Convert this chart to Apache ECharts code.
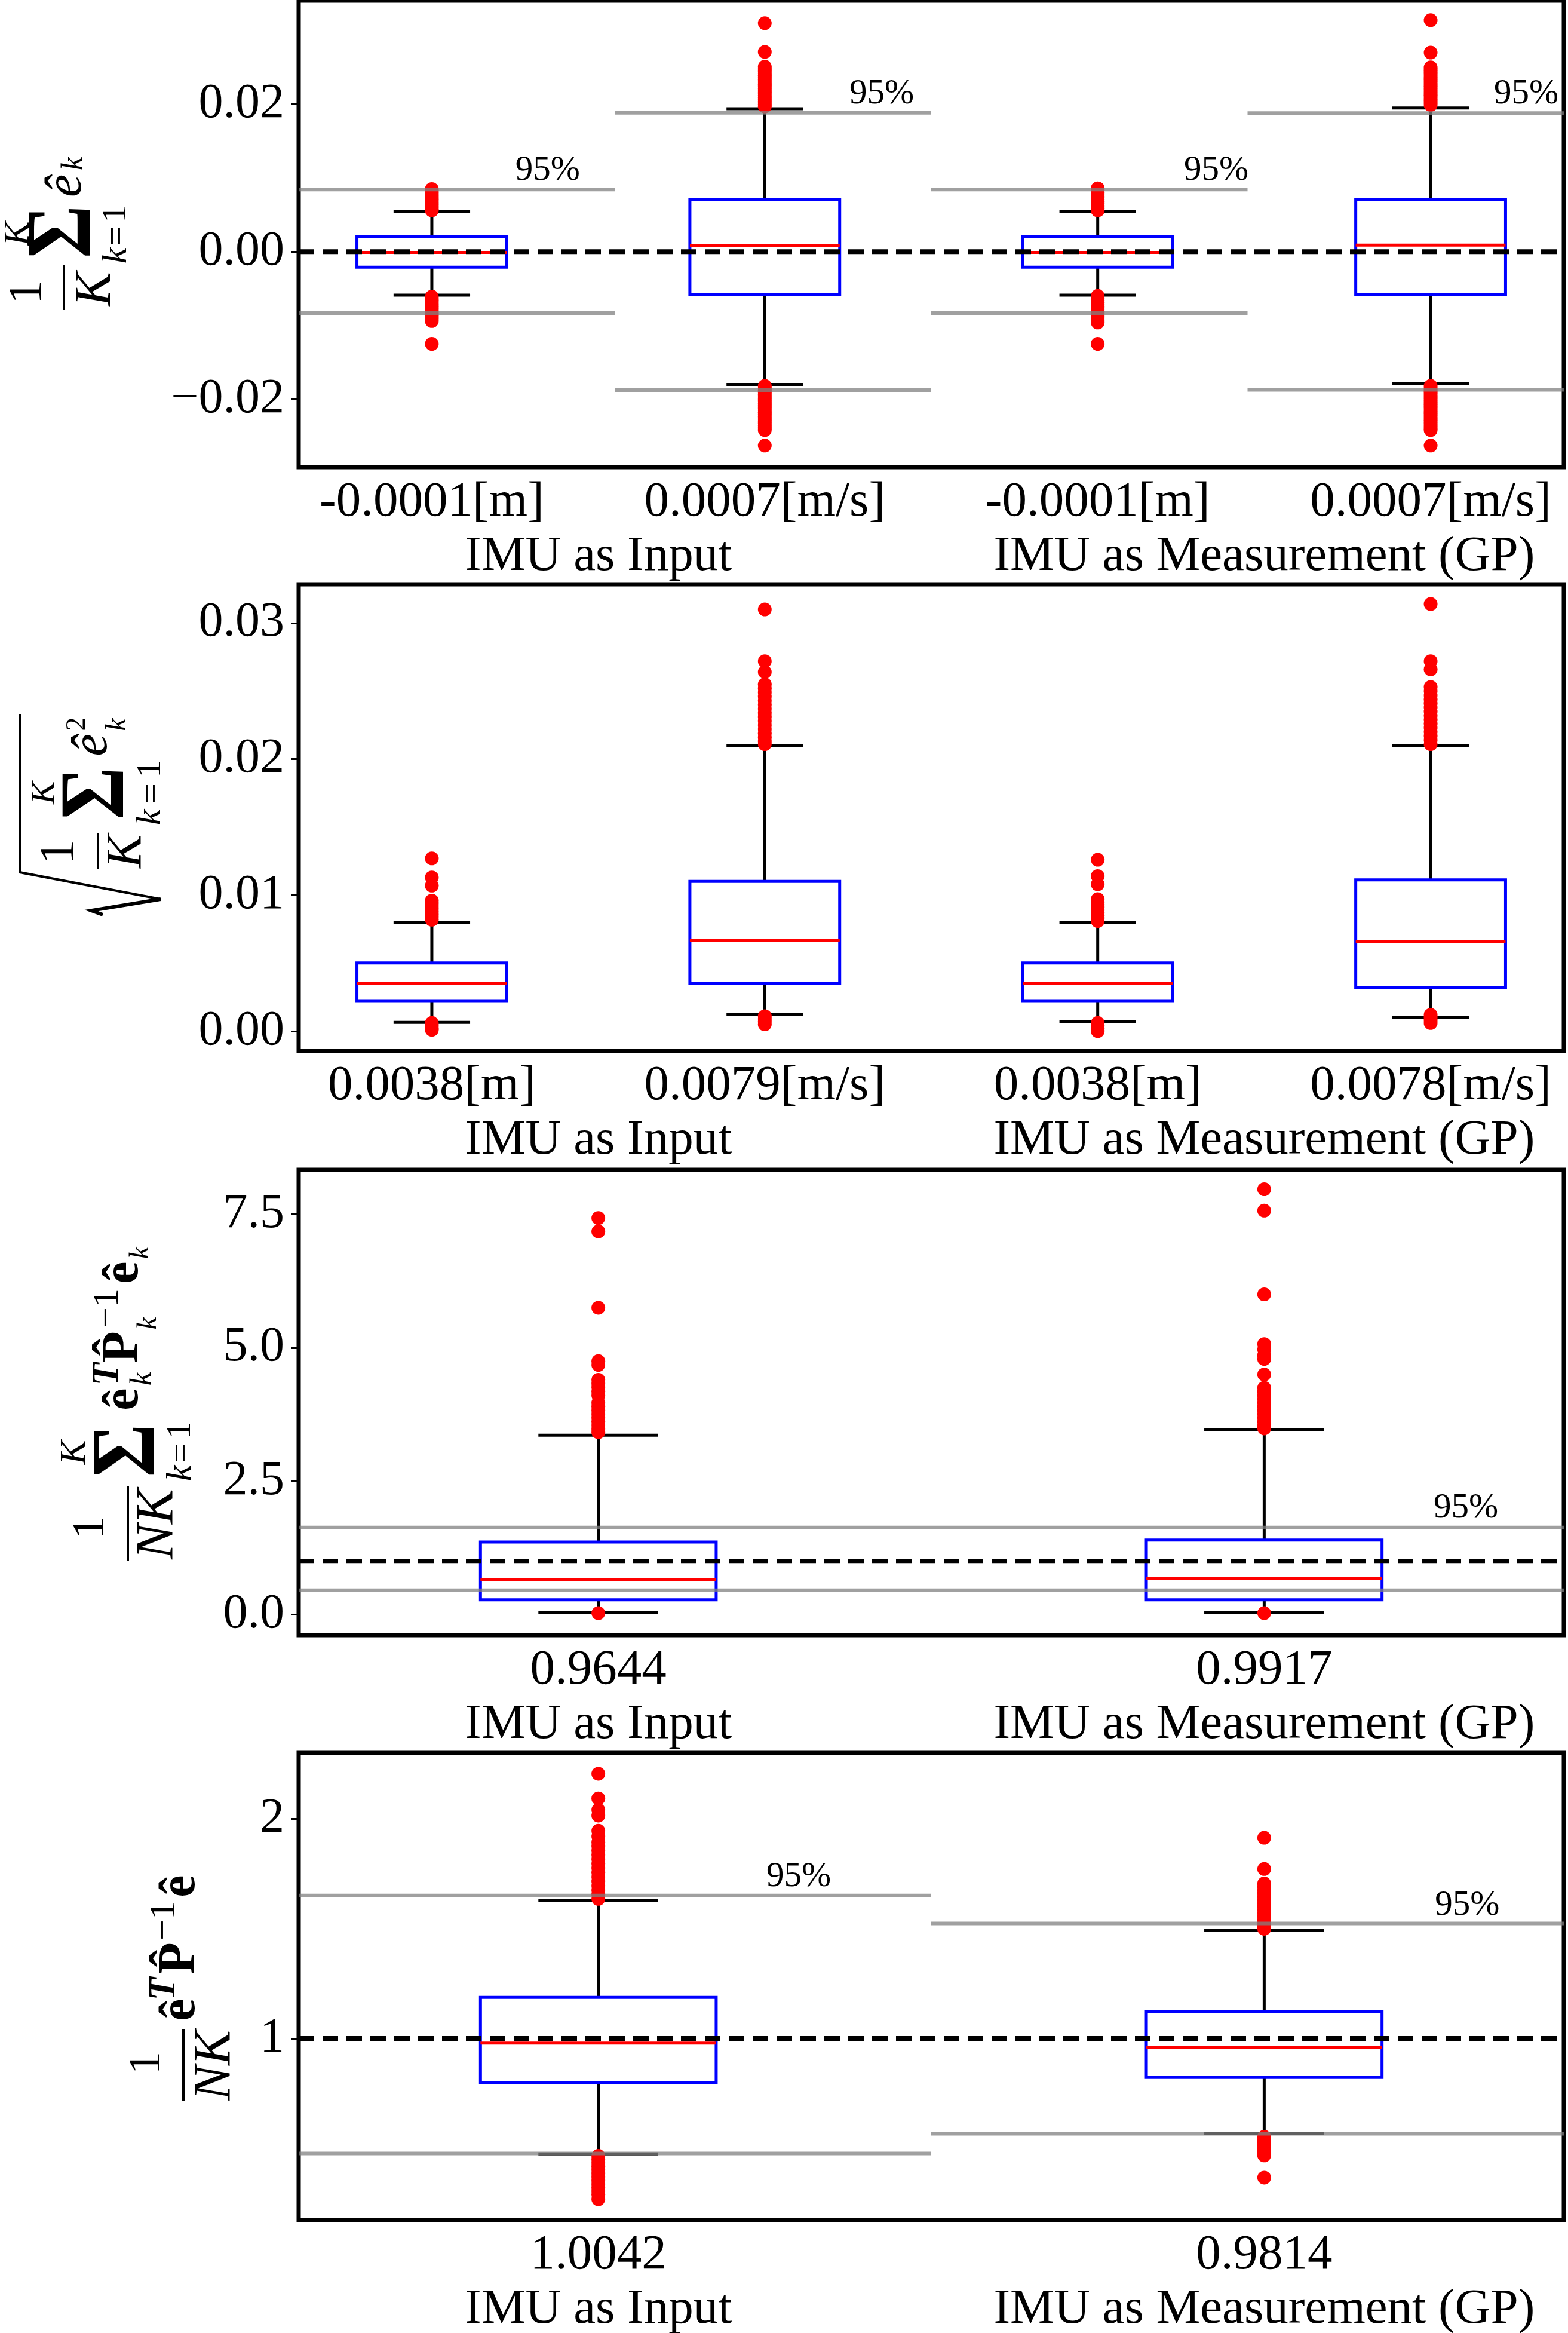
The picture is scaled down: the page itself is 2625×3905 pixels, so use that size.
<!DOCTYPE html>
<html lang="en">
<head>
<meta charset="utf-8">
<title>Estimation error boxplots</title>
<style>
  html, body { margin: 0; padding: 0; background: #fff; }
  #container { width: 2625px; height: 3905px; }
</style>
</head>
<body>
<div id="container"></div>
<script src="https://fastly.jsdelivr.net/npm/echarts@6.0.0/dist/echarts.min.js"></script>
<script>
var FONT = 'Liberation Serif';
var groupNames = ['IMU as Input', 'IMU as Measurement (GP)'];

// ---- panel 1: mean error (1/K) sum e_k ----
var p1Ticks = ['-0.0001[m]', '0.0007[m/s]', '-0.0001[m]', '0.0007[m/s]'];
// [position, lower whisker, q1, median, q3, upper whisker]
var p1Boxes = [
  [1, -0.0059, -0.0021, -0.0001, 0.0020, 0.0055],
  [2, -0.0180, -0.0058, 0.0008, 0.0071, 0.0194],
  [3, -0.0059, -0.0021, -0.0001, 0.0020, 0.0055],
  [4, -0.0179, -0.0058, 0.0009, 0.0071, 0.0195]
];
var p1Fliers = [
  [0.0085, 0.0082, 0.0079, 0.0076, 0.0073, 0.0070, 0.0067, 0.0064, 0.0061, 0.0058, 0.0056,
   -0.0061, -0.0064, -0.0067, -0.0070, -0.0073, -0.0076, -0.0079, -0.0082, -0.0085, -0.0088, -0.0091, -0.0094, -0.0125],
  [0.0310, 0.0271, 0.0251, 0.0248, 0.0245, 0.0242, 0.0239, 0.0236, 0.0233, 0.0230, 0.0227, 0.0224, 0.0221,
   0.0218, 0.0215, 0.0212, 0.0209, 0.0206, 0.0203, 0.0200, 0.0197,
   -0.0182, -0.0185, -0.0188, -0.0191, -0.0194, -0.0197, -0.0200, -0.0203, -0.0206, -0.0209, -0.0212,
   -0.0215, -0.0218, -0.0221, -0.0224, -0.0227, -0.0230, -0.0233, -0.0236, -0.0239, -0.0242, -0.0263],
  [0.0086, 0.0083, 0.0080, 0.0077, 0.0074, 0.0071, 0.0068, 0.0065, 0.0062, 0.0059, 0.0056,
   -0.0060, -0.0063, -0.0066, -0.0069, -0.0072, -0.0075, -0.0078, -0.0081, -0.0084, -0.0087, -0.0090, -0.0093, -0.0096, -0.0125],
  [0.0314, 0.0270, 0.0250, 0.0247, 0.0244, 0.0241, 0.0238, 0.0235, 0.0232, 0.0229, 0.0226, 0.0223, 0.0220,
   0.0217, 0.0214, 0.0211, 0.0208, 0.0205, 0.0202, 0.0199,
   -0.0182, -0.0185, -0.0188, -0.0191, -0.0194, -0.0197, -0.0200, -0.0203, -0.0206, -0.0209, -0.0212,
   -0.0215, -0.0218, -0.0221, -0.0224, -0.0227, -0.0230, -0.0233, -0.0236, -0.0239, -0.0242, -0.0263]
];
// 95% bounds: [x from, x to, y]
var p1Bounds = [
  [0.6, 1.55, 0.00843], [0.6, 1.55, -0.00832],
  [1.55, 2.5, 0.01884], [1.55, 2.5, -0.01878],
  [2.5, 3.45, 0.00843], [2.5, 3.45, -0.00832],
  [3.45, 4.4, 0.01881], [3.45, 4.4, -0.01873]
];
var p1Ref = [[0.6, 4.4, 0]];
var p1Pct = [[1.348, 0.0110], [2.351, 0.0214], [3.356, 0.0110], [4.287, 0.0214]];

// ---- panel 2: RMSE ----
var p2Ticks = ['0.0038[m]', '0.0079[m/s]', '0.0038[m]', '0.0078[m/s]'];
var p2Boxes = [
  [1, 0.00065, 0.00224, 0.00350, 0.00502, 0.00801],
  [2, 0.00123, 0.00350, 0.00670, 0.01101, 0.02098],
  [3, 0.00070, 0.00224, 0.00350, 0.00502, 0.00801],
  [4, 0.00101, 0.00320, 0.00659, 0.01112, 0.02098]
];
var p2Fliers = [
  [0.0127, 0.0113, 0.0107, 0.0096, 0.0094, 0.0092, 0.0090, 0.0088, 0.0086, 0.0084, 0.0082,
   0.0006, 0.0004, 0.0002, 0.0001],
  [0.0310, 0.0272, 0.0264, 0.0255, 0.0252, 0.0249, 0.0246, 0.0243, 0.0240, 0.0237, 0.0234, 0.0231,
   0.0228, 0.0225, 0.0222, 0.0219, 0.0216, 0.0213, 0.0211, 0.0011, 0.0009, 0.0007, 0.0005],
  [0.0126, 0.0114, 0.0108, 0.0097, 0.0095, 0.0093, 0.0091, 0.0089, 0.0087, 0.0085, 0.0083, 0.0081,
   0.0006, 0.0004, 0.0002, 0.0000],
  [0.0314, 0.0272, 0.0266, 0.0253, 0.0250, 0.0247, 0.0244, 0.0241, 0.0238, 0.0235, 0.0232, 0.0229,
   0.0226, 0.0223, 0.0220, 0.0217, 0.0214, 0.0211, 0.0012, 0.0010, 0.0008, 0.0006]
];

// ---- panel 3: mean NEES ----
var p3Ticks = ['0.9644', '0.9917'];
var p3Boxes = [
  [1, 0.043, 0.278, 0.657, 1.363, 3.362],
  [2, 0.043, 0.278, 0.685, 1.399, 3.469]
];
var p3Fliers = [
  [7.43, 7.18, 5.75, 4.75, 4.68, 4.40, 4.33, 4.26, 4.18, 4.11, 3.97, 3.90, 3.83, 3.76, 3.69,
   3.62, 3.55, 3.48, 3.42, 0.03],
  [7.97, 7.57, 6.00, 5.07, 4.97, 4.86, 4.79, 4.50, 4.25, 4.18, 4.11, 4.04, 3.97, 3.90, 3.83,
   3.76, 3.69, 3.62, 3.55, 3.49, 0.03]
];
var p3Bounds = [[0.55, 2.45, 1.634], [0.55, 2.45, 0.457]];
var p3Ref = [[0.55, 2.45, 1]];
var p3Pct = [[2.303, 2.0]];

// ---- panel 4: whole-trajectory NEES ----
var p4Ticks = ['1.0042', '0.9814'];
var p4Boxes = [
  [1, 0.475, 0.799, 0.979, 1.187, 1.629],
  [2, 0.567, 0.823, 0.960, 1.121, 1.492]
];
var p4Fliers = [
  [2.204, 2.092, 2.040, 2.014, 1.945, 1.919, 1.893, 1.875, 1.855, 1.835, 1.815, 1.795, 1.775,
   1.755, 1.735, 1.715, 1.695, 1.675, 1.655, 1.635,
   0.466, 0.450, 0.434, 0.418, 0.402, 0.386, 0.370, 0.354, 0.338, 0.322, 0.306, 0.290, 0.269],
  [1.913, 1.771, 1.705, 1.690, 1.675, 1.660, 1.645, 1.630, 1.615, 1.600, 1.585, 1.570, 1.555,
   1.540, 1.525, 1.510, 1.499, 0.553, 0.540, 0.527, 0.514, 0.501, 0.488, 0.475, 0.468, 0.367]
];
var p4Bounds = [[0.55, 1.5, 1.650], [0.55, 1.5, 0.477], [1.5, 2.45, 1.523], [1.5, 2.45, 0.567]];
var p4Ref = [[0.55, 2.45, 1]];
var p4Pct = [[1.301, 1.736], [2.305, 1.606]];

// y-axis titles, read bottom to top: [text, centre x, centre y, font size, style, squeeze]
// style: i italic, b bold
var yTitle1 = [
  ['1', 48, 489, 80, ''], ['K', 161, 484, 86, 'i'],
  ['\u03a3', 110, 388, 154, 'b', 0.88], ['K', 32, 391, 61, 'i'],
  ['k', 195, 428, 60, 'i'], ['=', 197, 395, 60, ''], ['1', 195, 358, 58, ''],
  ['\u00ea', 112, 311, 86, 'i'], ['k', 124, 274, 50, 'i']
];
var yTitle2 = [
  ['1', 100, 1426, 83, ''], ['K', 214, 1425, 84, 'i'],
  ['K', 76, 1327, 58, 'i'], ['\u03a3', 166, 1328, 155, 'b', 0.86],
  ['k', 252, 1368, 60, 'i'], ['=', 255, 1328, 60, ''], ['1', 253, 1287, 58, ''],
  ['\u00ea', 156, 1247, 85, 'i'], ['2', 130, 1212, 46, ''], ['k', 197, 1213, 48, 'i']
];
var yTitle3 = [
  ['1', 153, 2557, 76, ''], ['NK', 265, 2551, 88, 'i'],
  ['\u03a3', 218, 2428, 152, 'b', 0.9], ['K', 126, 2431, 61, 'i'],
  ['k', 303, 2466, 60, 'i'], ['=', 305, 2432, 60, ''], ['1', 303, 2394, 58, ''],
  ['\u00ea', 208, 2342, 84, 'b'], ['T', 181, 2300, 63, 'bi'], ['k', 239, 2308, 51, 'i'],
  ['P\u0302', 207, 2255, 87, 'b'], ['\u22121', 181, 2190, 62, ''], ['k', 249, 2215, 46, 'i'],
  ['\u00ea', 208, 2130, 84, 'b'], ['k', 236, 2097, 46, 'i']
];
var yTitle4 = [
  ['1', 247, 3453, 77, ''], ['NK', 361, 3457, 88, 'i'],
  ['\u00ea', 303, 3364, 84, 'b'], ['T', 276, 3329, 63, 'bi'],
  ['P\u0302', 302, 3278, 87, 'b'], ['\u22121', 276, 3215, 62, ''],
  ['\u00ea', 303, 3157, 84, 'b']
];
// fraction bars [x, y from, y to]
var fracBars = [[107, 444, 519], [164, 1395, 1455], [214, 2488, 2613], [307, 3396, 3517]];

var panels = [
  { top: 1, height: 781, x: [0.6, 4.4], y: [-0.02923, 0.03406], yTicks: [-0.02, 0, 0.02], dec: 2,
    ticks: p1Ticks, groupPos: [1.5, 3.5], boxes: p1Boxes, fliers: p1Fliers,
    bounds: p1Bounds, ref: p1Ref, pct: p1Pct, boxW: 0.45, capW: 0.23 },
  { top: 978, height: 781, x: [0.6, 4.4], y: [-0.00145, 0.03285], yTicks: [0, 0.01, 0.02, 0.03], dec: 2,
    ticks: p2Ticks, groupPos: [1.5, 3.5], boxes: p2Boxes, fliers: p2Fliers,
    bounds: [], ref: [], pct: [], boxW: 0.45, capW: 0.23 },
  { top: 1958, height: 779, x: [0.55, 2.45], y: [-0.384, 8.335], yTicks: [0, 2.5, 5, 7.5], dec: 1,
    ticks: p3Ticks, groupPos: [1, 2], boxes: p3Boxes, fliers: p3Fliers,
    bounds: p3Bounds, ref: p3Ref, pct: p3Pct, boxW: 0.354, capW: 0.18 },
  { top: 2934, height: 782, x: [0.55, 2.45], y: [0.174, 2.299], yTicks: [1, 2], dec: 0,
    ticks: p4Ticks, groupPos: [1, 2], boxes: p4Boxes, fliers: p4Fliers,
    bounds: p4Bounds, ref: p4Ref, pct: p4Pct, boxW: 0.354, capW: 0.18 }
];

function boxRenderer(boxW, capW) {
  return function (params, api) {
    var x = api.value(0);
    var lo = api.coord([x, api.value(1)]);
    var q1 = api.coord([x, api.value(2)]);
    var med = api.coord([x, api.value(3)]);
    var q3 = api.coord([x, api.value(4)]);
    var hi = api.coord([x, api.value(5)]);
    var bl = api.coord([x - boxW / 2, api.value(2)])[0];
    var br = api.coord([x + boxW / 2, api.value(2)])[0];
    var cl = api.coord([x - capW / 2, api.value(1)])[0];
    var cr = api.coord([x + capW / 2, api.value(1)])[0];
    function black() { return { stroke: '#000', lineWidth: 5 }; }
    return {
      type: 'group',
      children: [
        { type: 'line', shape: { x1: q1[0], y1: q1[1], x2: lo[0], y2: lo[1] }, style: black() },
        { type: 'line', shape: { x1: q3[0], y1: q3[1], x2: hi[0], y2: hi[1] }, style: black() },
        { type: 'line', shape: { x1: cl, y1: lo[1], x2: cr, y2: lo[1] }, style: black() },
        { type: 'line', shape: { x1: cl, y1: hi[1], x2: cr, y2: hi[1] }, style: black() },
        { type: 'rect', shape: { x: bl, y: q3[1], width: br - bl, height: q1[1] - q3[1] },
          style: { fill: 'none', stroke: '#0000ff', lineWidth: 5 } },
        { type: 'line', shape: { x1: bl, y1: med[1], x2: br, y2: med[1] },
          style: { stroke: '#ff0000', lineWidth: 5 } }
      ]
    };
  };
}

function segRenderer(style) {
  return function (params, api) {
    var a = api.coord([api.value(0), api.value(2)]);
    var b = api.coord([api.value(1), api.value(2)]);
    return { type: 'line', shape: { x1: a[0], y1: a[1], x2: b[0], y2: b[1] }, style: Object.assign({}, style) };
  };
}

function pctRenderer(params, api) {
  var p = api.coord([api.value(0), api.value(1)]);
  return {
    type: 'text', x: p[0], y: p[1],
    style: { text: '95%', fontSize: 59, fontFamily: FONT, fill: '#000',
             align: 'center', verticalAlign: 'middle' }
  };
}

// one rotated glyph of an axis title (reads bottom to top)
function glyph(item) {
  var st = item[4];
  return {
    type: 'text', x: item[1], y: item[2], rotation: Math.PI / 2,
    scaleX: item[5] || 1, scaleY: 1, silent: true,
    style: {
      legacy: false,
      text: item[0], fontSize: item[3], fontFamily: FONT,
      fontStyle: st.indexOf('i') >= 0 ? 'italic' : 'normal',
      fontWeight: st.indexOf('b') >= 0 ? 'bold' : 'normal',
      fill: '#000', align: 'center', verticalAlign: 'middle'
    }
  };
}

var option = {
  animation: false,
  backgroundColor: '#fff',
  grid: [], xAxis: [], yAxis: [], series: [], graphic: []
};

panels.forEach(function (p, i) {
  var pos = p.boxes.map(function (b) { return b[0]; });
  option.grid.push({
    left: 500, width: 2118, top: p.top, height: p.height,
    show: true, borderColor: '#000', borderWidth: 7, backgroundColor: 'transparent',
    containLabel: false, outerBoundsMode: 'none'
  });
  function xAxisFor(values, labels, margin) {
    return {
      type: 'value', gridIndex: i, position: 'bottom', min: p.x[0], max: p.x[1],
      axisLine: { show: false, onZero: false }, axisTick: { show: false }, splitLine: { show: false },
      axisLabel: {
        customValues: values, margin: margin, color: '#000', fontSize: 83, fontFamily: FONT,
        formatter: function (v) { return labels[values.indexOf(v)]; }
      }
    };
  }
  option.xAxis.push(xAxisFor(pos, p.ticks, 18));
  option.xAxis.push(xAxisFor(p.groupPos, groupNames, 109));
  option.yAxis.push({
    type: 'value', gridIndex: i, min: p.y[0], max: p.y[1],
    axisLine: { show: false, onZero: false },
    splitLine: { show: false },
    axisTick: { show: true, length: 12, customValues: p.yTicks, lineStyle: { color: '#000', width: 3 } },
    axisLabel: {
      customValues: p.yTicks, margin: 24, color: '#000', fontSize: 82, fontFamily: FONT,
      formatter: function (v) {
        return (v < -1e-12 ? '\u2212' : '') + Math.abs(v).toFixed(p.dec);
      }
    }
  });
  var xi = 2 * i;
  option.series.push({
    type: 'custom', xAxisIndex: xi, yAxisIndex: i, z: 2, silent: true,
    renderItem: boxRenderer(p.boxW, p.capW),
    encode: { x: 0, y: [1, 2, 3, 4, 5] },
    data: p.boxes
  });
  var pts = [];
  p.fliers.forEach(function (list, k) {
    list.forEach(function (v) { pts.push([pos[k], v]); });
  });
  option.series.push({
    type: 'scatter', xAxisIndex: xi, yAxisIndex: i, z: 3, silent: true,
    symbolSize: 23, itemStyle: { color: '#ff0000', opacity: 1 },
    data: pts
  });
  if (p.bounds.length) {
    option.series.push({
      type: 'custom', xAxisIndex: xi, yAxisIndex: i, z: 4, silent: true,
      renderItem: segRenderer({ stroke: 'rgba(128,128,128,0.75)', lineWidth: 6 }),
      encode: { x: [0, 1], y: 2 },
      data: p.bounds
    });
  }
  if (p.ref.length) {
    option.series.push({
      type: 'custom', xAxisIndex: xi, yAxisIndex: i, z: 5, silent: true,
      renderItem: segRenderer({ stroke: '#000', lineWidth: 8, lineDash: [26, 14] }),
      encode: { x: [0, 1], y: 2 },
      data: p.ref
    });
  }
  if (p.pct.length) {
    option.series.push({
      type: 'custom', xAxisIndex: xi, yAxisIndex: i, z: 6, silent: true,
      renderItem: pctRenderer,
      encode: { x: 0, y: 1 },
      data: p.pct
    });
  }
});

[yTitle1, yTitle2, yTitle3, yTitle4].forEach(function (list) {
  list.forEach(function (item) { option.graphic.push(glyph(item)); });
});
fracBars.forEach(function (b) {
  option.graphic.push({
    type: 'line', silent: true,
    shape: { x1: b[0], y1: b[1], x2: b[0], y2: b[2] },
    style: { stroke: '#000', lineWidth: 4 }
  });
});
// square root sign of the RMSE title
option.graphic.push({
  type: 'polyline', silent: true,
  shape: { points: [[33, 1195], [33, 1460], [269, 1505]] },
  style: { stroke: '#000', lineWidth: 4, fill: null }
});
option.graphic.push({
  type: 'polyline', silent: true,
  shape: { points: [[269, 1505], [153, 1524], [172, 1531]] },
  style: { stroke: '#000', lineWidth: 6, fill: null }
});

var chart = echarts.init(document.getElementById('container'), null, { renderer: 'canvas' });
chart.setOption(option);
window.addEventListener('resize', chart.resize);
</script>
</body>
</html>
